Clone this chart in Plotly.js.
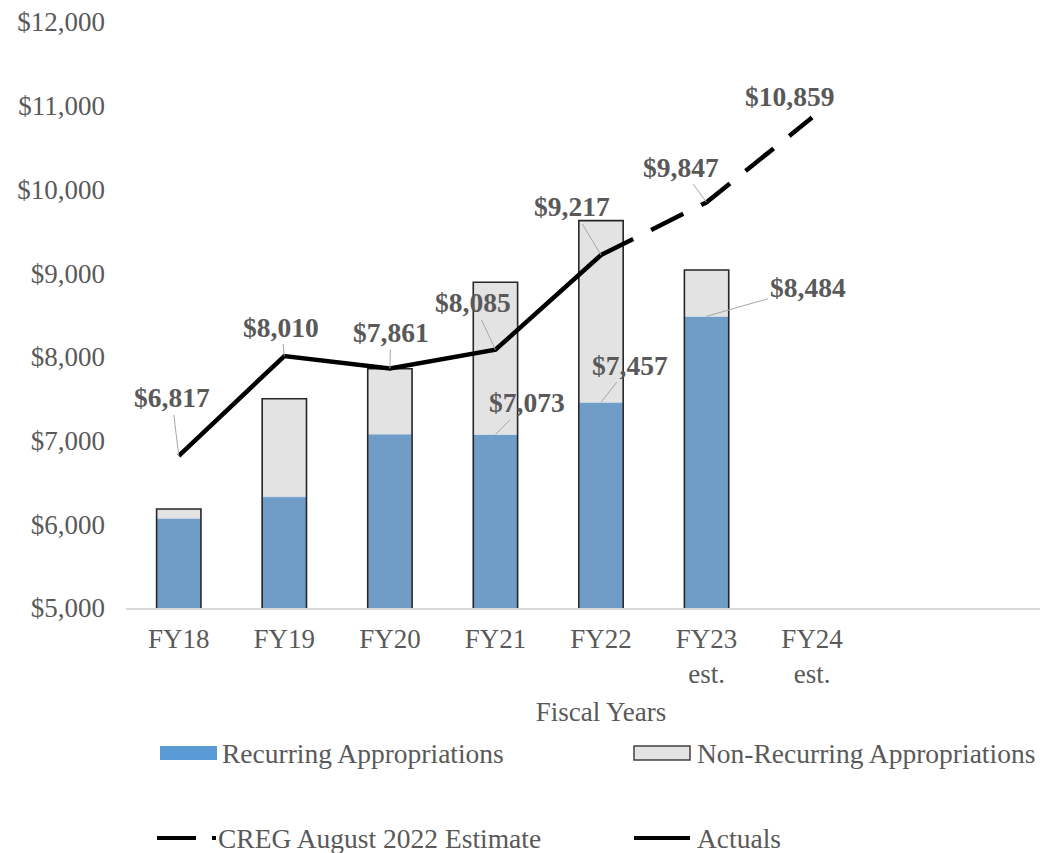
<!DOCTYPE html>
<html>
<head>
<meta charset="utf-8">
<script src="https://cdn.plot.ly/plotly-3.0.1.min.js"></script>
<style>
  html, body { margin: 0; padding: 0; overflow: hidden; background: #ffffff; }
  #chart { width: 1078px; height: 853px; }
</style>
</head>
<body>
<div id="chart"></div>
<script>
const years = ["FY18", "FY19", "FY20", "FY21", "FY22", "FY23 est.", "FY24 est."];
const yearLabels = ["FY18", "FY19", "FY20", "FY21", "FY22", "FY23<br>est.", "FY24<br>est."];
const recurring = [6072, 6330, 7078, 7073, 7457, 8484];
const nonRecurring = [111, 1170, 780, 1818, 2170, 554];
const actualYears = ["FY18", "FY19", "FY20", "FY21", "FY22"];
const actuals = [6817, 8010, 7861, 8085, 9217];
const estimateYears = ["FY22", "FY23 est.", "FY24 est."];
const estimate = [9217, 9847, 10859];
const yTicks = [5000, 6000, 7000, 8000, 9000, 10000, 11000, 12000];

const TEXT_GREY = "#595959";
const SERIF = "Liberation Serif, Times New Roman, serif";
const PLOT_LEFT = 126;
const PLOT_TOP = 22;
const PLOT_WIDTH = 950;
const PLOT_HEIGHT = 586;

const barYears = years.slice(0, recurring.length);
const totals = recurring.map((value, index) => value + nonRecurring[index]);

function dollars(value) {
  return `$${value.toLocaleString("en-US")}`;
}

// legend is drawn by hand, so convert page pixels to paper coords
function paperX(px) {
  return (px - PLOT_LEFT) / PLOT_WIDTH;
}

function paperY(py) {
  return (PLOT_TOP + PLOT_HEIGHT - py) / PLOT_HEIGHT;
}

function valueLabel(x, y, ax, ay, withLeader = true) {
  return {
    x,
    y,
    xref: "x",
    yref: "y",
    text: dollars(y),
    showarrow: withLeader,
    arrowhead: 0,
    arrowwidth: 1,
    arrowcolor: "#a6a6a6",
    standoff: 0,
    ax: withLeader ? ax : 0,
    ay: withLeader ? ay : 0,
    xshift: withLeader ? 0 : ax,
    yshift: withLeader ? 0 : -ay,
    font: { family: SERIF, size: 27.5, color: TEXT_GREY, weight: "bold" },
  };
}

function legendText(px, py, text) {
  return {
    xref: "paper",
    yref: "paper",
    x: paperX(px),
    y: paperY(py),
    xanchor: "left",
    yanchor: "middle",
    text,
    showarrow: false,
    font: { family: SERIF, size: 27.5, color: TEXT_GREY },
  };
}

const traces = [
  {
    type: "bar",
    name: "Non-Recurring Appropriations",
    x: barYears,
    y: totals,
    width: 0.42,
    marker: { color: "#e3e3e3", line: { width: 0 } },
    hoverinfo: "skip",
  },
  {
    type: "bar",
    name: "Recurring Appropriations",
    x: barYears,
    y: recurring,
    width: 0.42,
    marker: { color: "#709dc8", line: { color: "#d6e0ea", width: 1 } },
  },
  {
    type: "bar",
    name: "outline",
    x: barYears,
    y: totals,
    width: 0.42,
    marker: { color: "rgba(0,0,0,0)", line: { color: "#262626", width: 1.6 } },
    hoverinfo: "skip",
  },
  {
    type: "scatter",
    mode: "lines",
    name: "CREG August 2022 Estimate",
    x: estimateYears,
    y: estimate,
    line: { color: "#000000", width: 4.5, dash: "36px,20px" },
  },
  {
    type: "scatter",
    mode: "lines",
    name: "Actuals",
    x: actualYears,
    y: actuals,
    line: { color: "#000000", width: 4.5 },
  },
];

const annotations = [
  valueLabel("FY18", actuals[0], -7, -58),
  valueLabel("FY19", actuals[1], -3, -29),
  valueLabel("FY20", actuals[2], 1, -36),
  valueLabel("FY21", actuals[3], -22, -47),
  valueLabel("FY22", actuals[4], -29, -48),
  valueLabel("FY23 est.", estimate[1], -26, -35),
  valueLabel("FY24 est.", estimate[2], -23, -21, false),
  valueLabel("FY21", recurring[3], 32, -32),
  valueLabel("FY22", recurring[4], 29, -37),
  valueLabel("FY23 est.", recurring[5], 101, -29),
  legendText(220, 753, "Recurring Appropriations"),
  legendText(695, 753, "Non-Recurring Appropriations"),
  legendText(216, 838, "CREG August 2022 Estimate"),
  legendText(695, 838, "Actuals"),
];

const shapes = [
  {
    type: "rect", xref: "paper", yref: "paper",
    x0: paperX(160), x1: paperX(217), y0: paperY(760), y1: paperY(746),
    fillcolor: "#5b9bd5", line: { width: 0 },
  },
  {
    type: "rect", xref: "paper", yref: "paper",
    x0: paperX(634), x1: paperX(690), y0: paperY(760), y1: paperY(746),
    fillcolor: "#e3e3e3", line: { color: "#404040", width: 1.5 },
  },
  {
    type: "line", xref: "paper", yref: "paper",
    x0: paperX(157), x1: paperX(216), y0: paperY(838), y1: paperY(838),
    line: { color: "#000000", width: 4, dash: "39px,16px" },
  },
  {
    type: "line", xref: "paper", yref: "paper",
    x0: paperX(634), x1: paperX(690), y0: paperY(838), y1: paperY(838),
    line: { color: "#000000", width: 4 },
  },
];

const layout = {
  width: 1078,
  height: 853,
  margin: { l: PLOT_LEFT, r: 1078 - PLOT_LEFT - PLOT_WIDTH, t: PLOT_TOP, b: 853 - PLOT_TOP - PLOT_HEIGHT },
  paper_bgcolor: "#ffffff",
  plot_bgcolor: "#ffffff",
  barmode: "overlay",
  showlegend: false,
  font: { family: SERIF, color: TEXT_GREY, size: 27 },
  xaxis: {
    type: "category",
    categoryorder: "array",
    categoryarray: years,
    tickvals: years,
    ticktext: yearLabels,
    range: [-0.5, 8.5],
    showgrid: false,
    zeroline: false,
    showline: true,
    linecolor: "#d9d9d9",
    linewidth: 1.5,
    ticks: "",
    ticklabelstandoff: 6,
    tickfont: { family: SERIF, size: 27, color: TEXT_GREY },
    title: { text: "Fiscal Years", font: { family: SERIF, size: 27, color: TEXT_GREY }, standoff: 14 },
    fixedrange: true,
  },
  yaxis: {
    range: [5000, 12000],
    tickmode: "array",
    tickvals: yTicks,
    ticktext: yTicks.map(dollars),
    showgrid: false,
    zeroline: false,
    showline: false,
    ticks: "",
    ticklabelstandoff: 20,
    tickfont: { family: SERIF, size: 27, color: TEXT_GREY },
    fixedrange: true,
  },
  annotations,
  shapes,
};

Plotly.newPlot("chart", traces, layout, { displayModeBar: false, staticPlot: true });
</script>
</body>
</html>
